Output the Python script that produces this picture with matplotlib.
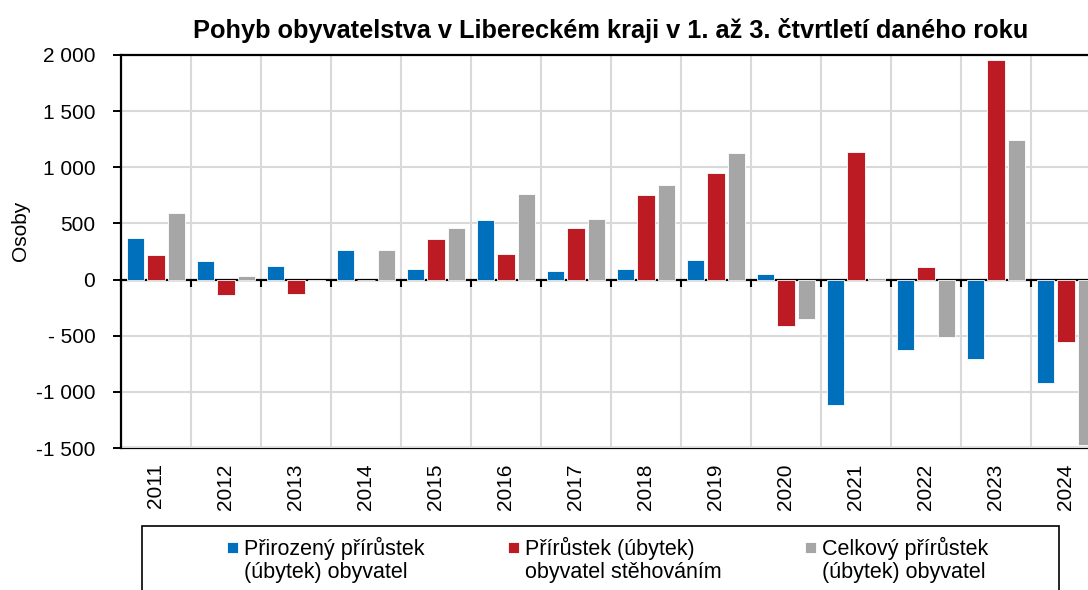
import numpy as np
import matplotlib.pyplot as plt
from matplotlib.patches import Rectangle
from matplotlib.ticker import FuncFormatter
from matplotlib.container import BarContainer
from matplotlib.legend_handler import HandlerPatch, update_from_first_child

plt.rcParams['font.family'] = ['Liberation Sans', 'DejaVu Sans']

# data
roky = ['2011', '2012', '2013', '2014', '2015', '2016', '2017',
        '2018', '2019', '2020', '2021', '2022', '2023', '2024']
prirozeny = [372, 167, 119, 262, 98, 529, 77, 95, 178, 51, -1115, -631, -711, -919]
stehovani = [220, -134, -128, 0, 363, 226, 458, 750, 946, -410, 1133, 110, 1954, -556]
celkovy = [595, 36, -9, 262, 458, 758, 538, 845, 1124, -354, 18, -515, 1243, -1472]

nazvy = ['Přirozený přírůstek\n(úbytek) obyvatel',
         'Přírůstek (úbytek)\nobyvatel stěhováním',
         'Celkový přírůstek\n(úbytek) obyvatel']
barvy = ['#0070BC', '#BD1B23', '#A6A6A6']

FS = 15.5

fig = plt.figure(figsize=(10.88, 5.90), dpi=100)
# right edge of the plot goes past the picture, like in the reference
ax = fig.add_axes([121/1088, 1 - 448/590, 980/1088, (448 - 55)/590])

x = np.arange(len(roky))
w = 0.245
sirka = 0.29
for i, (vals, c, n) in enumerate(zip([prirozeny, stehovani, celkovy], barvy, nazvy)):
    ax.bar(x + (i - 1)*sirka, vals, w, color=c, label=n, edgecolor='white',
           linewidth=0.6, zorder=3)

ax.set_xlim(-0.5, len(roky) - 0.5)
ax.set_ylim(-1500, 2000)
ax.set_yticks(np.arange(-1500, 2001, 500))

def fmt(v, pos):
    s = f"{abs(v):,.0f}".replace(',', ' ')
    if v < 0:
        return ('- ' if abs(v) < 1000 else '-') + s
    return s

ax.yaxis.set_major_formatter(FuncFormatter(fmt))
ax.tick_params(axis='y', labelsize=15, length=6, width=1.4, direction='out', pad=12.5)

# x axis at zero with ticks between categories
ax.set_xticks(np.arange(-0.5, len(roky), 1.0))
ax.tick_params(axis='x', labelbottom=False, length=5, width=1.5, direction='out')
ax.spines['bottom'].set_position(('data', 0))
ax.spines['bottom'].set_linewidth(1.6)
for s in ['top', 'left', 'right']:
    ax.spines[s].set_linewidth(1.6)

ax.grid(True, color='#D9D9D9', linewidth=1.5, zorder=0)
ax.set_axisbelow(True)

# year labels at bottom of the plot
sec = ax.secondary_xaxis(0)
sec.set_xticks(x, labels=roky)
sec.tick_params(length=0, labelsize=15, pad=11, labelrotation=90)
sec.spines['bottom'].set_linewidth(1.6)

ax.set_ylabel('Osoby', fontsize=15)
ax.yaxis.set_label_coords(-0.093, 0.552)
ax.set_title('Pohyb obyvatelstva v Libereckém kraji v 1. až 3. čtvrtletí daného roku',
             fontsize=18.3, fontweight='bold', pad=12)

# legend box reaching past the bottom edge
fig.patches.append(Rectangle((142/1088, -0.1), (1059 - 142)/1088, 1.1 - 526/590,
                             transform=fig.transFigure, fill=False,
                             edgecolor='black', linewidth=1.2))


def ctverec(legend, orig_handle, xdescent, ydescent, width, height, fontsize):
    # square next to the first line of a two-line label
    s = 0.52*fontsize
    return Rectangle((-xdescent, 0.71*fontsize), s, s)


leg = fig.legend(loc='upper left', bbox_to_anchor=(227/1088, 1 - 537/590), ncol=3,
                 frameon=False, fontsize=FS, handlelength=0.52, handleheight=0.52,
                 handletextpad=0.25, columnspacing=3.9, borderpad=0, borderaxespad=0,
                 handler_map={BarContainer: HandlerPatch(patch_func=ctverec,
                                                         update_func=update_from_first_child)})
for t in leg.get_texts():
    t.set_linespacing(1.13)

plt.savefig('out.png', dpi=100)
